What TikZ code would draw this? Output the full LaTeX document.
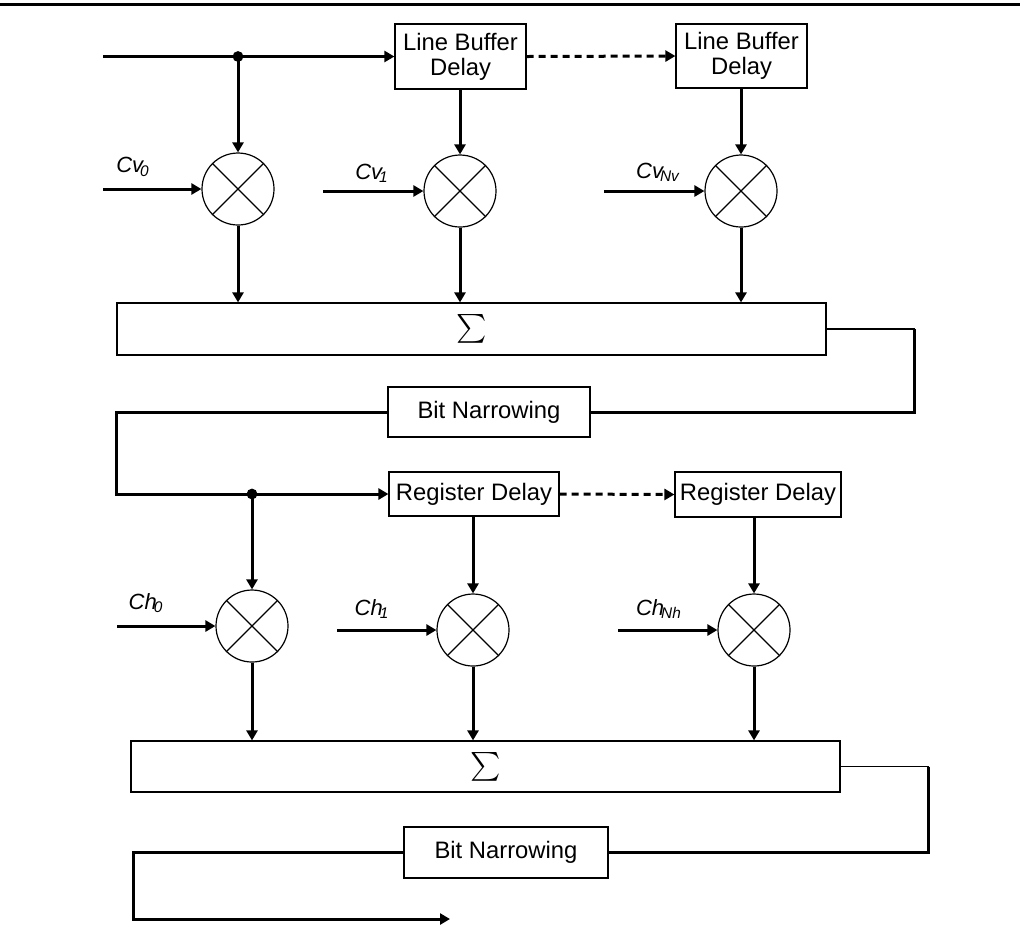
\documentclass[tikz,border=0pt]{standalone}
\usepackage{amsmath}
\usepackage{fontspec}
\setmainfont{Liberation Sans}
\usetikzlibrary{arrows.meta}

\begin{document}
\begin{tikzpicture}[x=0.5pt, y=-0.5pt,
  font=\fontsize{11.9}{12.5}\selectfont,
  blk/.style={draw, line width=0.6pt, inner sep=0pt, align=center},
  mul/.style={circle, draw, line width=0.6pt, minimum size=36pt, inner sep=0pt},
  arr/.style={line width=1.5pt, -{Triangle[length=5pt,width=5.5pt]}},
  darr/.style={arr, dash pattern=on 3.5pt off 2.5pt},
  wire/.style={line width=1.5pt},
  sig/.style={font=\fontsize{13.5}{14}\selectfont},
  lbl/.style={font=\fontsize{11}{12}\selectfont\itshape, inner sep=0pt}]
\useasboundingbox (0,0) rectangle (1020,939);
\coordinate (r0) at (0,4.3); \coordinate (r1) at (1020,4.3);
\draw[line width=1.65pt] (r0) -- (r1);
% vertical filter
\node[blk, minimum width=65.5pt, minimum height=32.5pt] (lbd1) at (460.5,56.5) {Line Buffer\\Delay};
\node[blk, minimum width=65.5pt, minimum height=32pt] (lbd2) at (741.5,56) {Line Buffer\\Delay};
\node[mul] (m1) at (238,189) {}; \node[mul] (m2) at (460,191) {}; \node[mul] (m3) at (741,191) {};
\node[blk, sig, minimum width=354.5pt, minimum height=26pt] (s1) at (471.5,329) {$\sum$};
\node[blk, minimum width=101pt, minimum height=25pt] (bn1) at (489,412) {Bit Narrowing};
\node[lbl] (lcv0) at (133,167) {Cv\textsubscript{\kern-1.5pt0}};
\node[lbl] (lcv1) at (372,173) {Cv\textsubscript{\kern-1.5pt1}};
\node[lbl] (lcvn) at (658,172) {Cv\textsubscript{\kern-1.5pt Nv}};
\coordinate (in) at (103,56.5); \coordinate (j1) at (238,56.5);
\coordinate (cv0) at (103,189); \coordinate (cv1) at (323,191); \coordinate (cvn) at (604,191);
\draw[arr] (in) -- (lbd1.west);
\fill (j1) circle (2.7pt);
\draw[arr] (j1) -- (m1.north);
\draw[arr] (m2 |- lbd1.south) -- (m2.north);
\draw[arr] (m3 |- lbd2.south) -- (m3.north);
\draw[darr] (lbd1.east) -- (lbd2.west);
\draw[arr] (cv0) -- (m1.west); \draw[arr] (cv1) -- (m2.west); \draw[arr] (cvn) -- (m3.west);
\foreach \m in {m1,m2,m3} \draw[arr] (\m.south) -- (\m |- s1.north);
\draw[line width=0.6pt] (s1.east) -- ++(88,0) coordinate (t1);
\draw[wire] (t1) |- (bn1.east);
% horizontal filter
\node[blk, minimum width=85pt, minimum height=22pt] (rd1) at (474,494) {Register Delay};
\node[blk, minimum width=83pt, minimum height=22.5pt] (rd2) at (758,494.5) {Register Delay};
\node[mul] (m4) at (252,626) {}; \node[mul] (m5) at (473,630) {}; \node[mul] (m6) at (754,630) {};
\node[blk, sig, minimum width=354.5pt, minimum height=25.5pt] (s2) at (485.5,766.5) {$\sum$};
\node[blk, minimum width=102pt, minimum height=25.5pt] (bn2) at (506,852.5) {Bit Narrowing};
\node[lbl] (lch0) at (146,603) {Ch\textsubscript{\kern-1.5pt0}};
\node[lbl] (lch1) at (372,609) {Ch\textsubscript{\kern-1.5pt1}};
\node[lbl] (lchn) at (659,609) {Ch\textsubscript{\kern-1.5pt Nh}};
\coordinate (k1) at (116,494); \coordinate (j2) at (252,494);
\coordinate (ch0) at (117,626); \coordinate (ch1) at (337,630); \coordinate (chn) at (618,630);
\draw[arr] (bn1.west) -| (k1) -- (rd1.west);
\fill (j2) circle (2.7pt);
\draw[arr] (j2) -- (m4.north);
\draw[arr] (m5 |- rd1.south) -- (m5.north);
\draw[arr] (m6 |- rd2.south) -- (m6.north);
\draw[darr] (rd1.east) -- (rd2.west);
\draw[arr] (ch0) -- (m4.west); \draw[arr] (ch1) -- (m5.west); \draw[arr] (chn) -- (m6.west);
\foreach \m in {m4,m5,m6} \draw[arr] (\m.south) -- (\m |- s2.north);
\draw[line width=0.6pt] (s2.east) -- ++(88,0) coordinate (t2);
\draw[wire] (t2) |- (bn2.east);
\coordinate (k2) at (133,919); \coordinate (out) at (450,919);
\draw[arr] (bn2.west) -| (k2) -- (out);
% multiplier crosses
\foreach \m in {m1,m2,m3,m4,m5,m6}
  \draw[line width=0.6pt] (\m.north west) -- (\m.south east) (\m.north east) -- (\m.south west);
\end{tikzpicture}
\end{document}
